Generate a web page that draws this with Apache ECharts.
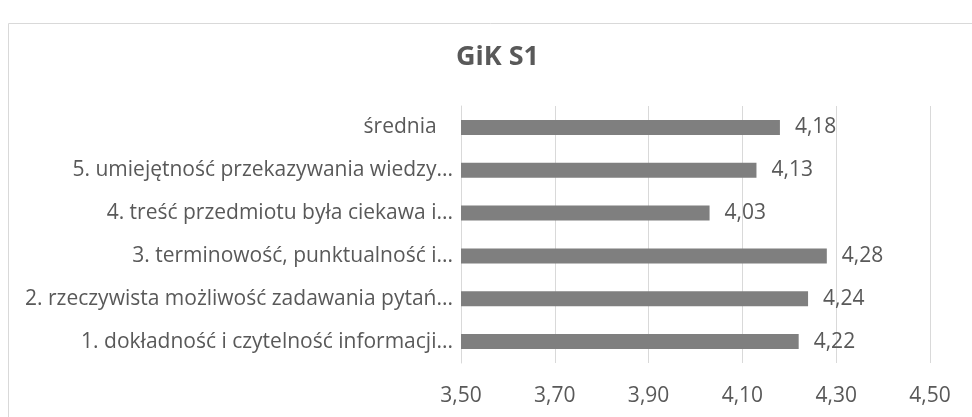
<!DOCTYPE html>
<html lang="pl">
<head>
	<meta charset="UTF-8">
	<title>GiK S1</title>
	<script src="https://cdn.jsdelivr.net/npm/echarts@6/dist/echarts.min.js"></script>
	<style>
		html, body { margin: 0; padding: 0; background: #fff; }
		#container { width: 972px; height: 417px; }
	</style>
</head>
<body>
	<div id="container"></div>
	<script>
		// pytania od dołu do góry
		var questions = [
			'1. dokładność i czytelność informacji...',
			'2. rzeczywista możliwość zadawania pytań...',
			'3. terminowość, punktualność i...',
			'4. treść przedmiotu była ciekawa i...',
			'5. umiejętność przekazywania wiedzy...',
			'średnia   '
		];
		var scores = [4.22, 4.24, 4.28, 4.03, 4.13, 4.18];
		var xTicks = [3.5, 3.7, 3.9, 4.1, 4.3, 4.5];

		var fontName = 'Open Sans';
		var textColor = '#595959';

		function comma(v) {
			return v.toFixed(2).replace('.', ',');
		}

		var myChart = echarts.init(document.getElementById('container'));
		var option = {
			animation: false,
			textStyle: { fontFamily: fontName },
			title: {
				text: 'GiK S1',
				left: 451,
				top: 39,
				textStyle: { fontFamily: fontName, fontSize: 27, fontWeight: 'bold', color: textColor }
			},
			graphic: [{
				type: 'rect',
				shape: { x: 8.5, y: 23.5, width: 1000, height: 500 },
				style: { fill: 'none', stroke: '#d9d9d9', lineWidth: 1 },
				silent: true
			}],
			grid: { left: 461, right: 42, top: 106, bottom: 54 },
			xAxis: {
				type: 'value',
				min: xTicks[0],
				max: xTicks[xTicks.length - 1],
				interval: 0.2,
				axisLine: { show: false },
				axisTick: { show: false },
				splitLine: { lineStyle: { color: '#d9d9d9', width: 1 } },
				axisLabel: {
					color: textColor, fontSize: 21, fontFamily: fontName, margin: 23,
					formatter: function (v) { return comma(v); }
				}
			},
			yAxis: {
				type: 'category',
				data: questions,
				axisLine: { show: true, lineStyle: { color: '#d9d9d9' } },
				axisTick: { show: false },
				axisLabel: { color: textColor, fontSize: 21, fontFamily: fontName, margin: 8 }
			},
			series: [{
				type: 'bar',
				data: scores,
				barWidth: 15,
				itemStyle: { color: '#7f7f7f' },
				label: {
					show: true,
					position: 'right',
					distance: 15,
					color: textColor,
					fontSize: 21,
					fontFamily: fontName,
					formatter: function (p) { return comma(p.value); }
				}
			}]
		};
		myChart.setOption(option);
	</script>
</body>
</html>
